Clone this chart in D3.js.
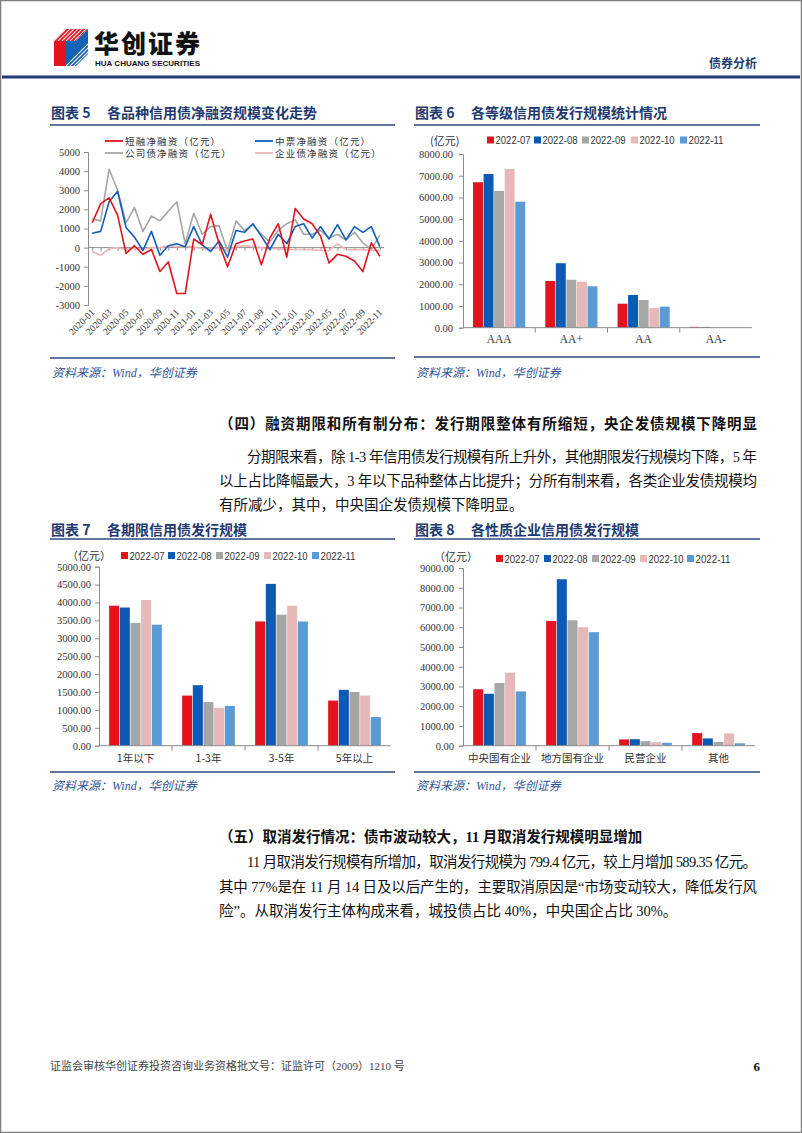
<!DOCTYPE html>
<html><head><meta charset="utf-8">
<script src="https://cdn.jsdelivr.net/npm/d3@7"></script>
<style>
html,body{margin:0;padding:0;background:#fff;}
svg{display:block;}
</style></head><body>
<svg id="page" width="802" height="1133"></svg>
<script>
// ---------------- DATA ----------------
const months = ["2020-01","2020-02","2020-03","2020-04","2020-05","2020-06","2020-07","2020-08","2020-09","2020-10","2020-11","2020-12",
"2021-01","2021-02","2021-03","2021-04","2021-05","2021-06","2021-07","2021-08","2021-09","2021-10","2021-11","2021-12",
"2022-01","2022-02","2022-03","2022-04","2022-05","2022-06","2022-07","2022-08","2022-09","2022-10","2022-11"];
const monthLabels = ["2020-01","2020-03","2020-05","2020-07","2020-09","2020-11","2021-01","2021-03","2021-05","2021-07","2021-09","2021-11","2022-01","2022-03","2022-05","2022-07","2022-09","2022-11"];
const shortFin = [1300,2300,2600,1700,-300,100,-350,-100,-1250,-750,-2400,-2400,450,150,1750,200,-1000,200,350,450,-900,500,1250,-500,2050,1500,1250,600,-800,-350,-450,-700,-1250,250,-450];
const midNote  = [750,850,2400,2950,1050,550,-150,850,-400,100,200,50,1100,150,-200,350,-500,900,800,1250,600,-100,700,200,1100,1250,500,1100,450,1200,400,1100,800,1100,50];
const corpBond = [1500,1400,4100,3000,1300,2100,850,1650,1400,1900,2400,200,1800,700,1100,1150,-200,1400,900,1200,700,300,900,1250,1450,700,700,900,500,700,400,800,250,-100,650];
const entBond  = [-200,-400,-50,0,-100,0,-100,0,0,100,50,50,50,-50,-50,0,-150,50,100,50,0,-50,-50,-100,-100,-100,-100,-150,-150,200,-100,-100,-100,-150,-150];
const lineNames = ["短融净融资（亿元）","中票净融资（亿元）","公司债净融资（亿元）","企业债净融资（亿元）"];
const ticks5 = [-3000,-2000,-1000,0,1000,2000,3000,4000,5000];

const periods = ["2022-07","2022-08","2022-09","2022-10","2022-11"];

const ratings = ["AAA","AA+","AA","AA-"];
const gradeJul = [6700,2150,1105,40];
const gradeAug = [7080,2970,1505,35];
const gradeSep = [6300,2210,1275,20];
const gradeOct = [7310,2120,905,10];
const gradeNov = [5805,1905,970,5];
const ticks6 = [0,1000,2000,3000,4000,5000,6000,7000,8000];

const terms = ["1年以下","1-3年","3-5年","5年以上"];
const termJul = [3910,1400,3470,1260];
const termAug = [3860,1690,4520,1560];
const termSep = [3430,1220,3660,1500];
const termOct = [4070,1060,3910,1400];
const termNov = [3380,1110,3470,800];
const ticks7 = [0,500,1000,1500,2000,2500,3000,3500,4000,4500,5000];

const owners = ["中央国有企业","地方国有企业","民营企业","其他"];
const ownJul = [2860,6320,320,640];
const ownAug = [2630,8430,330,370];
const ownSep = [3180,6350,230,190];
const ownOct = [3700,6000,180,620];
const ownNov = [2750,5750,150,120];
const ticks8 = [0,1000,2000,3000,4000,5000,6000,7000,8000,9000];

// ---------------- STYLE ----------------
const lineColors = ["#e3141e","#1460b8","#a6a6a6","#edb5b5"];
const barColors = ["#e3141e","#0b5bb5","#a6a6a6","#e6b9b8","#5b9bd5"];
const NAVY = "#1f3a6e";
const CJK = "'Noto Sans CJK SC','Noto Sans',sans-serif";
const SERIF = "'Liberation Serif','Noto Sans CJK SC',serif";
const SANS = "'Liberation Sans','Noto Sans CJK SC',sans-serif";

const svg = d3.select("#page");
svg.append("rect").attr("x",0.5).attr("y",0.5).attr("width",801).attr("height",1132)
  .attr("fill","#fff").attr("stroke","#7f7f7f").attr("stroke-width",1.5);

// ---------------- HEADER ----------------
const hdr = svg.append("g");
const defs = svg.append("defs");
defs.append("clipPath").attr("id","clipTop").append("polygon").attr("points","54,41 66,29 88,29 76,41");
defs.append("clipPath").attr("id","clipBlue").append("polygon").attr("points","66,41 76,41 88,29 88,54 76,66 66,66");
hdr.append("polygon").attr("points","54,41 66,29 88,29 76,41").attr("fill","#e3141e");
hdr.append("polygon").attr("points","54,41 66,41 66,66 54,66").attr("fill","#e3141e");
hdr.append("polygon").attr("points","66,41 76,41 88,29 88,54 76,66 66,66").attr("fill","#1462b4");
const stripesTop = hdr.append("g").attr("clip-path","url(#clipTop)");
[0,1,2,3,4,5,6,7,8].forEach(k=>{
  stripesTop.append("line").attr("x1",50+k*4).attr("y1",45).attr("x2",70+k*4).attr("y2",25).attr("stroke","#fff").attr("stroke-width",1.1);
});
const stripesBot = hdr.append("g").attr("clip-path","url(#clipBlue)");
[0,1,2,3,4].forEach(k=>{
  stripesBot.append("line").attr("x1",60+k*4).attr("y1",72).attr("x2",92+k*4).attr("y2",40).attr("stroke","#fff").attr("stroke-width",1.1);
});
hdr.append("text").attr("x",94).attr("y",53).attr("font-family",CJK).attr("font-weight",900)
  .attr("font-size",25).attr("fill","#111").attr("textLength",106).text("华创证券");
hdr.append("text").attr("x",95).attr("y",66).attr("font-family","'Liberation Sans',sans-serif").attr("font-weight",700)
  .attr("font-size",7.5).attr("fill","#111").attr("textLength",105).attr("lengthAdjust","spacingAndGlyphs").text("HUA CHUANG SECURITIES");
hdr.append("text").attr("x",757).attr("y",68).attr("text-anchor","end").attr("font-family",CJK).attr("font-weight",700)
  .attr("font-size",12).attr("fill",NAVY).text("债券分析");
hdr.append("rect").attr("x",2).attr("y",75.5).attr("width",798).attr("height",3).attr("fill","#1f3a7a");

// ---------------- HELPERS ----------------
function chartFrame(x0, x1, titleY, ruleY, num, title, srcRuleY, srcY){
  const g = svg.append("g");
  g.append("text").attr("x",x0+1).attr("y",titleY).attr("font-family",CJK).attr("font-weight",700)
    .attr("font-size",14).attr("fill",NAVY).text("图表 " + num);
  g.append("text").attr("x",x0+57).attr("y",titleY).attr("font-family",CJK).attr("font-weight",700)
    .attr("font-size",14).attr("fill",NAVY).text(title);
  g.append("line").attr("x1",x0).attr("x2",x1).attr("y1",ruleY).attr("y2",ruleY).attr("stroke","#2c4a82").attr("stroke-width",1.6);
  g.append("line").attr("x1",x0).attr("x2",x1).attr("y1",srcRuleY).attr("y2",srcRuleY).attr("stroke","#2c4a82").attr("stroke-width",1.4);
  g.append("text").attr("x",x0+2).attr("y",srcY).attr("font-family",SERIF).attr("font-style","italic")
    .attr("font-size",12).attr("fill","#2e5597").text("资料来源：Wind，华创证券");
}

function barChart(o){
  const g = svg.append("g");
  const y = d3.scaleLinear().domain([0, o.yMax]).range([o.yBot, o.yTop]);
  const x = d3.scaleBand().domain(o.cats).range([o.x0, o.x1]);
  const inner = d3.scaleBand().domain(periods).range([0, x.bandwidth()]).paddingInner(0.06).paddingOuter(0.95);
  const yAxis = d3.axisLeft(y).tickValues(o.ticks).tickSize(4).tickPadding(o.pad).tickFormat(d3.format(".2f"));
  const ya = g.append("g").attr("transform",`translate(${o.x0},0)`).call(yAxis);
  ya.select(".domain").attr("stroke","#8c8c8c");
  ya.selectAll(".tick line").attr("stroke","#8c8c8c");
  ya.selectAll("text").attr("font-family",SERIF).attr("font-size",10.5).attr("fill","#333");
  // bars
  o.series.forEach((vals, si)=>{
    g.append("g").selectAll("rect").data(vals).join("rect")
      .attr("x",(d,i)=>x(o.cats[i]) + inner(periods[si]))
      .attr("width",inner.bandwidth())
      .attr("y",d=>y(d)).attr("height",d=>y(0)-y(d))
      .attr("fill",barColors[si]);
  });
  // x axis
  g.append("line").attr("x1",o.x0).attr("x2",o.x1).attr("y1",y(0)).attr("y2",y(0)).attr("stroke","#8c8c8c");
  o.cats.forEach((c,i)=>{
    const xx = x(c) + x.bandwidth();
    if (i < o.cats.length-1)
      g.append("line").attr("x1",xx).attr("x2",xx).attr("y1",y(0)).attr("y2",y(0)+5).attr("stroke","#8c8c8c");
    g.append("text").attr("x",x(c)+x.bandwidth()/2).attr("y",o.catY).attr("text-anchor","middle")
      .attr("font-family",o.catFont).attr("font-size",o.catSize).attr("fill","#333").text(c);
  });
  // legend
  g.append("text").attr("x",o.unitX).attr("y",o.unitY).attr("font-family",CJK).attr("font-size",11)
    .attr("fill","#333").text(o.unitText);
  periods.forEach((p,i)=>{
    const lx = o.legX[i];
    g.append("rect").attr("x",lx).attr("y",o.legY-4).attr("width",7).attr("height",7).attr("fill",barColors[i]);
    g.append("text").attr("x",lx+8.5).attr("y",o.legY+3.8).attr("font-family",SANS).attr("font-size",10.5)
      .attr("textLength",35).attr("lengthAdjust","spacingAndGlyphs")
      .attr("fill","#333").text(p);
  });
}

// ---------------- CHART 5 ----------------
chartFrame(50, 395, 118, 125, "5", "各品种信用债净融资规模变化走势", 358, 377);
(function(){
  const g = svg.append("g");
  const x = d3.scalePoint().domain(months).range([92.2, 379.8]);
  const y = d3.scaleLinear().domain([-3000,5000]).range([305,152]);
  const ya = g.append("g").attr("transform","translate(88,0)")
    .call(d3.axisLeft(y).tickValues(ticks5).tickSize(4).tickPadding(4).tickFormat(d=>d));
  ya.select(".domain").attr("stroke","#8c8c8c");
  ya.selectAll(".tick line").attr("stroke","#8c8c8c");
  ya.selectAll("text").attr("font-family",SERIF).attr("font-size",10.5).attr("fill","#333");
  const xa = g.append("g").attr("transform",`translate(0,${y(0)})`)
    .call(d3.axisBottom(x).tickSize(3).tickFormat(""));
  xa.select(".domain").remove();
  xa.selectAll(".tick line").attr("stroke","#8c8c8c");
  g.append("line").attr("x1",88).attr("x2",384).attr("y1",y(0)).attr("y2",y(0)).attr("stroke","#8c8c8c");
  monthLabels.forEach(m=>{
    g.append("text").attr("transform",`translate(${x(m)+3},313) rotate(-45)`).attr("text-anchor","end")
      .attr("font-family",SERIF).attr("font-size",9.5).attr("fill","#333").text(m);
  });
  const series = [corpBond, entBond, midNote, shortFin];
  const cols = [lineColors[2], lineColors[3], lineColors[1], lineColors[0]];
  const line = d3.line().x((d,i)=>x(months[i])).y(d=>y(d));
  series.forEach((s,k)=>{
    g.append("path").attr("d",line(s)).attr("fill","none").attr("stroke",cols[k]).attr("stroke-width",1.6)
      .attr("stroke-linejoin","round");
  });
  // legend
  const lg = [[105,141],[255,141],[105,153],[255,153]];
  lineNames.forEach((n,i)=>{
    g.append("line").attr("x1",lg[i][0]).attr("x2",lg[i][0]+18).attr("y1",lg[i][1]).attr("y2",lg[i][1])
      .attr("stroke",lineColors[i]).attr("stroke-width",1.8);
    g.append("text").attr("x",lg[i][0]+20).attr("y",lg[i][1]+3.5).attr("font-family",CJK).attr("font-size",9.5)
      .attr("letter-spacing",1.2).attr("fill","#333").text(n);
  });
})();

// ---------------- CHART 6 ----------------
chartFrame(414, 760, 118, 125, "6", "各等级信用债发行规模统计情况", 357, 377);
barChart({cats:ratings, series:[gradeJul,gradeAug,gradeSep,gradeOct,gradeNov], yMax:8000, ticks:ticks6,
  x0:463, x1:752, yTop:154, yBot:327.7, pad:6, catY:343, catFont:SERIF, catSize:11.5,
  unitX:430, unitY:145, unitText:"(亿元)", legX:[487,534,582,631,680], legY:140.5});

// ---------------- CHART 7 ----------------
chartFrame(50, 395, 535, 539, "7", "各期限信用债发行规模", 772, 790);
barChart({cats:terms, series:[termJul,termAug,termSep,termOct,termNov], yMax:5000, ticks:ticks7,
  x0:99, x1:391, yTop:566.7, yBot:745.7, pad:4, catY:762, catFont:CJK, catSize:10.5,
  unitX:67, unitY:560, unitText:"（亿元）", legX:[121,168,216,264,312], legY:556});

// ---------------- CHART 8 ----------------
chartFrame(414, 760, 535, 539, "8", "各性质企业信用债发行规模", 772, 790);
barChart({cats:owners, series:[ownJul,ownAug,ownSep,ownOct,ownNov], yMax:9000, ticks:ticks8,
  x0:463, x1:755, yTop:568, yBot:745.7, pad:5, catY:762, catFont:CJK, catSize:10.5,
  unitX:434, unitY:561, unitText:"（亿元）", legX:[496,544,592,640,687], legY:559});

// ---------------- TEXT ----------------
const RIGHT = 757;
function textLine(t, x, y, opts){
  const el = svg.append("text").attr("x",x).attr("y",y).attr("font-family",SERIF)
    .attr("font-size",opts.size||14.5).attr("fill","#111").text(t);
  if (opts.bold) el.attr("font-weight",700);
  if (opts.full) el.attr("textLength",RIGHT-x).attr("lengthAdjust","spacing");
}
textLine("（四）融资期限和所有制分布：发行期限整体有所缩短，央企发债规模下降明显", 219, 429, {bold:true, full:true, size:14.5});
textLine("分期限来看，除 1-3 年信用债发行规模有所上升外，其他期限发行规模均下降，5 年", 247, 462, {full:true});
textLine("以上占比降幅最大，3 年以下品种整体占比提升；分所有制来看，各类企业发债规模均", 219, 486, {full:true});
textLine("有所减少，其中，中央国企发债规模下降明显。", 219, 510, {});

textLine("（五）取消发行情况：债市波动较大，11 月取消发行规模明显增加", 219, 842, {bold:true, size:14.5});
textLine("11 月取消发行规模有所增加，取消发行规模为 799.4 亿元，较上月增加 589.35 亿元。", 247, 867, {full:true});
textLine("其中 77%是在 11 月 14 日及以后产生的，主要取消原因是“市场变动较大，降低发行风", 219, 892, {full:true});
textLine("险”。从取消发行主体构成来看，城投债占比 40%，中央国企占比 30%。", 219, 916, {});

// ---------------- FOOTER ----------------
svg.append("text").attr("x",50).attr("y",1070).attr("font-family",SERIF).attr("font-size",11).attr("fill","#444")
  .text("证监会审核华创证券投资咨询业务资格批文号：证监许可（2009）1210 号");
svg.append("text").attr("x",760).attr("y",1071).attr("text-anchor","end").attr("font-family",SERIF)
  .attr("font-weight",700).attr("font-size",13).attr("fill","#111").text("6");
</script>
</body></html>
